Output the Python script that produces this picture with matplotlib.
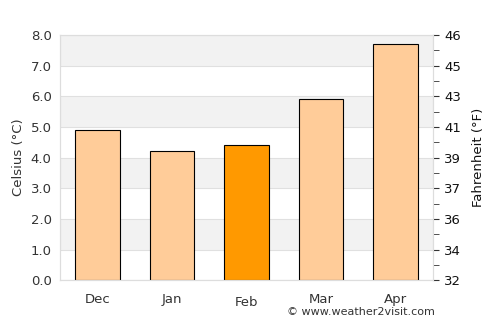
import numpy as np
import matplotlib.pyplot as plt

months = ['Dec', 'Jan', 'Feb', 'Mar', 'Apr']
celsius = [4.9, 4.2, 4.4, 5.9, 7.7]
highlight = 'Feb'
c_ticks = [0, 1, 2, 3, 4, 5, 6, 7, 8]

fig = plt.figure(figsize=(5, 3.25), dpi=100)
ax = fig.add_axes([0.12, 0.138, 0.746, 0.754])

# alternating bands
for lo in range(0, 8):
    if lo % 2 == 1:
        ax.axhspan(lo, lo + 1, color='#f2f2f2', zorder=0, lw=0)
for t in c_ticks:
    ax.axhline(t, color='#e0e0e0', lw=0.8, zorder=1)

x = np.arange(len(months))
colors = ['#ff9900' if m == highlight else '#ffcc99' for m in months]
ax.bar(x, celsius, width=0.6, color=colors, edgecolor='black', linewidth=0.8, zorder=3)

ax.set_xlim(-0.5, len(months) - 0.5)
ax.set_ylim(0, 8)
ax.set_yticks(c_ticks)
ax.set_yticklabels([f'{t:.1f}' for t in c_ticks])
ax.set_xticks(x)
ax.set_xticklabels(months)
for lbl, m in zip(ax.get_xticklabels(), months):
    if m == highlight:
        lbl.set_y(-0.012)
ax.tick_params(axis='both', length=0, colors='#333333', labelsize=9.5, pad=6)
ax.tick_params(axis='x', pad=9)
ax.set_ylabel('Celsius (°C)', color='#333333', fontsize=9.5)
for s in ax.spines.values():
    s.set_color('#dddddd')

ax2 = ax.twinx()
ax2.set_ylim(0, 8)
ax2.set_yticks(c_ticks)
ax2.set_yticklabels([f'{t * 1.8 + 32:.0f}' for t in c_ticks])
ax2.set_yticks(np.arange(0.5, 8, 1), minor=True)
ax2.tick_params(axis='y', which='major', length=4, color='#333333', colors='#111111', labelsize=9.5, pad=4)
ax2.tick_params(axis='y', which='minor', length=4, color='#333333')
ax2.set_ylabel('Fahrenheit (°F)', color='#111111', fontsize=9.5, labelpad=8)
for s in ax2.spines.values():
    s.set_color('#dddddd')

fig.text(0.87, 0.025, '© www.weather2visit.com', ha='right', va='bottom', fontsize=8, color='#333333')

fig.savefig('out.png', dpi=100)
